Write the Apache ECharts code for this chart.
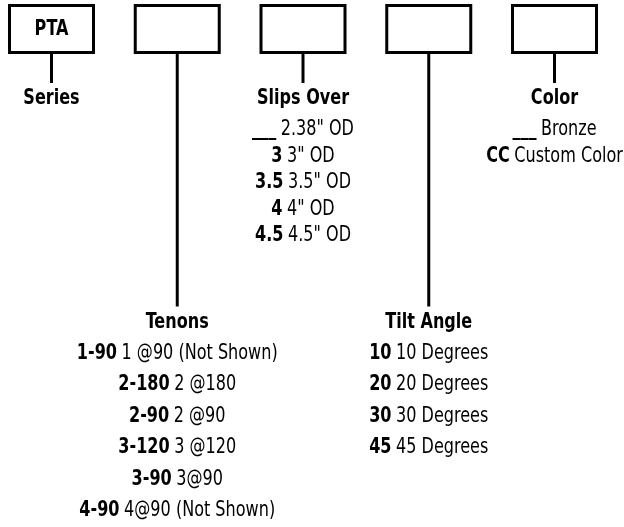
<!DOCTYPE html>
<html><head><meta charset="utf-8">
<script src="https://cdn.jsdelivr.net/npm/echarts@6/dist/echarts.min.js"></script>
<style>html,body{margin:0;padding:0;background:#fff}#c{width:624px;height:527px}</style>
</head><body><div id="c"></div>
<script>
// ---- data ----
const columns = ['Series', 'Tenons', 'Slips Over', 'Tilt Angle', 'Color'];
const boxLabels = ['PTA', '', '', '', ''];
const seriesCodes = [];
const seriesDescs = [];
const tenonCodes = ['1-90', '2-180', '2-90', '3-120', '3-90', '4-90'];
const tenonDescs = ['1 @90 (Not Shown)', '2 @180', '2 @90', '3 @120', '3@90', '4@90 (Not Shown)'];
const slipCodes = ['___', '3', '3.5', '4', '4.5'];
const slipDescs = ['2.38" OD', '3" OD', '3.5" OD', '4" OD', '4.5" OD'];
const tiltCodes = ['10', '20', '30', '45'];
const tiltDescs = ['10 Degrees', '20 Degrees', '30 Degrees', '45 Degrees'];
const colorCodes = ['___', 'CC'];
const colorDescs = ['Bronze', 'Custom Color'];

const codesByCol = [seriesCodes, tenonCodes, slipCodes, tiltCodes, colorCodes];
const descsByCol = [seriesDescs, tenonDescs, slipDescs, tiltDescs, colorDescs];
const tierByCol = [0, 1, 0, 1, 0];

// ---- layout (styles) ----
const FONT = "'DejaVu Sans Condensed','DejaVu Sans',sans-serif";
const FS = 21;
const SX = 0.85;
const tiers = [
  { header: 99, first: 129.5, step: 26.6 },
  { header: 322.5, first: 353.5, step: 31.4 }
];
const boxTop = 5.5, boxBottom = 52.5, boxHalfW = 42;

const chart = echarts.init(document.getElementById('c'), null, { renderer: 'canvas' });
chart.setOption({
  animation: false,
  backgroundColor: '#fff',
  grid: { left: 0, right: 0, top: 0, bottom: 0 },
  xAxis: { type: 'value', min: -0.4095, max: 4.5526, show: false },
  yAxis: { type: 'value', min: 0, max: 527, inverse: true, show: false },
  series: [{
    type: 'custom',
    coordinateSystem: 'cartesian2d',
    data: columns.map((c, i) => [i]),
    renderItem: function (params, api) {
      const i = params.dataIndex;
      const t = tiers[tierByCol[i]];
      const cx = api.coord([i, 0])[0];
      const yTop = api.coord([0, boxTop])[1];
      const yBot = api.coord([0, boxBottom])[1];
      const yHead = api.coord([0, t.header])[1];
      const children = [
        { type: 'rect', shape: { x: cx - boxHalfW, y: yTop, width: boxHalfW * 2, height: yBot - yTop },
          style: { fill: '#fff', stroke: '#000', lineWidth: 3 } },
        { type: 'line', shape: { x1: cx, y1: yBot + 1.5, x2: cx, y2: yHead - 16 },
          style: { stroke: '#000', lineWidth: 3 } },
        { type: 'text', x: cx, y: (yTop + yBot) / 2 + 1, scaleX: SX,
          style: { text: boxLabels[i], fill: '#000', font: 'bold ' + FS + 'px ' + FONT, align: 'center', verticalAlign: 'middle' } },
        { type: 'text', x: cx, y: yHead, scaleX: SX,
          style: { text: columns[i], fill: '#000', font: 'bold ' + FS + 'px ' + FONT, align: 'center', verticalAlign: 'middle' } }
      ];
      const codes = codesByCol[i], descs = descsByCol[i];
      for (let k = 0; k < codes.length; k++) {
        const y = api.coord([0, t.first + t.step * k])[1];
        children.push({
          type: 'text', x: cx, y: y, scaleX: SX,
          style: {
            text: '{b|' + codes[k] + '} {r|' + descs[k] + '}',
            align: 'center', verticalAlign: 'middle',
            rich: {
              b: { fontFamily: FONT, fontWeight: 'bold', fontSize: FS, fill: '#000', color: '#000', padding: [0, 2, 0, 0] },
              r: { fontFamily: FONT, fontWeight: 'normal', fontSize: FS, fill: '#000', color: '#000' }
            }
          }
        });
      }
      return { type: 'group', children: children };
    }
  }]
});
</script></body></html>
